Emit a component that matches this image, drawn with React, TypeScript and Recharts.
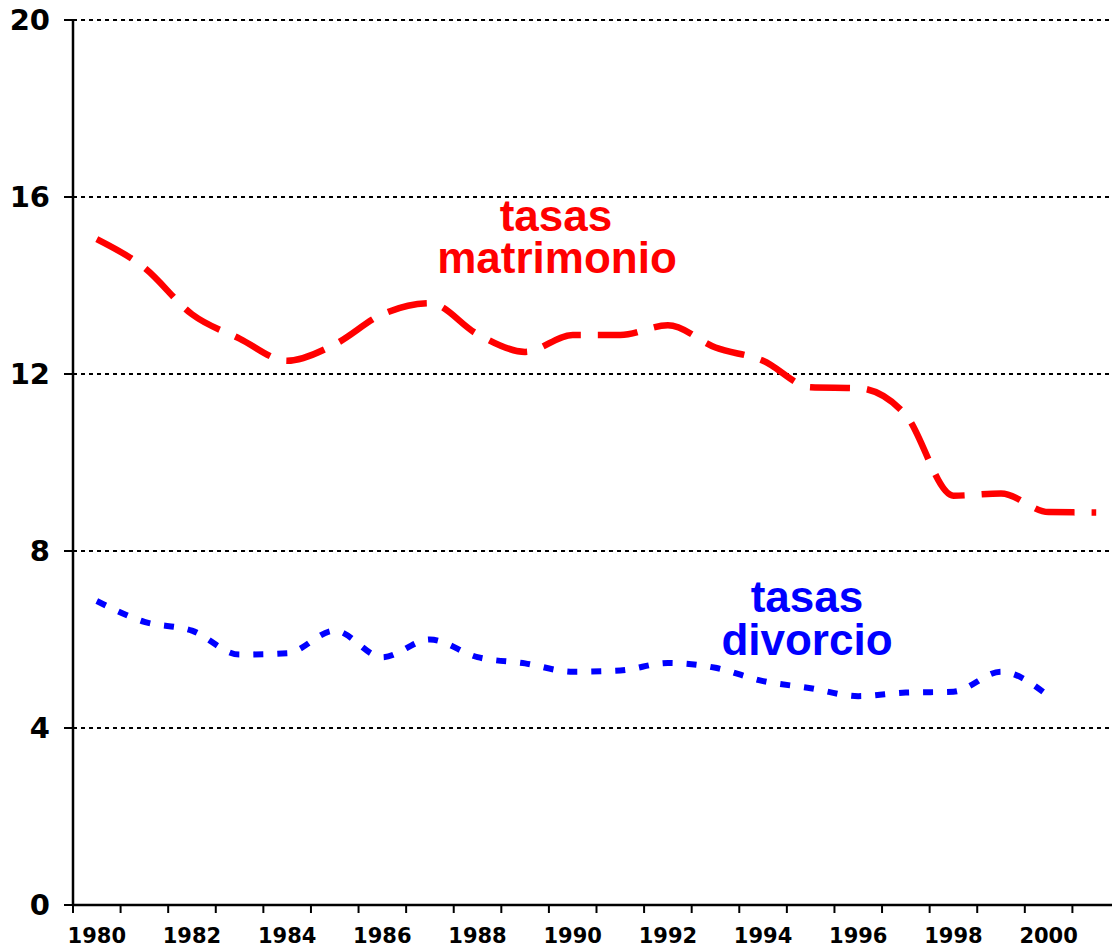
import React from 'react';
import { LineChart, Line, XAxis, YAxis, CartesianGrid } from 'recharts';

const years = [1980, 1981, 1982, 1983, 1984, 1985, 1986, 1987, 1988, 1989, 1990,
  1991, 1992, 1993, 1994, 1995, 1996, 1997, 1998, 1999, 2000, 2001];
const matrimonio = [15.05, 14.4, 13.35, 12.8, 12.3, 12.67, 13.35, 13.6, 12.9, 12.5, 12.88,
  12.88, 13.1, 12.6, 12.3, 11.7, 11.68, 11.07, 9.25, 9.3, 8.88, 8.87];
const divorcio = [6.87, 6.4, 6.2, 5.66, 5.69, 6.2, 5.6, 6.0, 5.6, 5.46, 5.27,
  5.3, 5.47, 5.36, 5.06, 4.9, 4.72, 4.8, 4.82, 5.27, 4.72, null];
const yTicks = [0, 4, 8, 12, 16, 20];
const labelYears = [1980, 1982, 1984, 1986, 1988, 1990, 1992, 1994, 1996, 1998, 2000];

const data = years.map((y, i) => ({ year: y, matrimonio: matrimonio[i], divorcio: divorcio[i] }));

// tick marks sit on the year boundaries, labels on every second year
const xTicks: number[] = [];
years.forEach(y => {
  xTicks.push(y - 0.5);
  if (labelYears.includes(y)) xTicks.push(y);
});
xTicks.push(2001.5);

const TICK = 8, GAP = 15;

function YearTick(props: any) {
  const { x, y, payload } = props;
  const v = payload.value;
  if (v % 1 !== 0) {
    return <line x1={x} x2={x} y1={y - TICK - GAP} y2={y - GAP} stroke="#000" strokeWidth={2} />;
  }
  return (
    <text x={x} y={y} dy="0.71em" textAnchor="middle" fontFamily="DejaVu Sans" fontWeight="bold" fontSize={21} fill="#000">
      {v}
    </text>
  );
}

const labelFont = { fontFamily: 'Liberation Sans', fontWeight: 'bold' as const, fontSize: 44 };

export default function App() {
  return (
    <div style={{ position: 'fixed', left: 0, top: 0, width: 1112, height: 949, overflow: 'hidden', background: '#fff' }}>
      <LineChart width={1130} height={949} data={data} margin={{ top: 20, right: 10, bottom: 0, left: 0 }}>
        <CartesianGrid vertical={false} stroke="#000" strokeWidth={2} strokeDasharray="4 4" />
        <XAxis
          dataKey="year"
          type="number"
          domain={[1979.5, 2001.5]}
          ticks={xTicks}
          interval={0}
          height={44}
          tickLine={false}
          tickSize={TICK}
          tickMargin={GAP}
          axisLine={{ stroke: '#000', strokeWidth: 2.5 }}
          tick={<YearTick />}
        />
        <YAxis
          domain={[0, 20]}
          ticks={yTicks}
          width={73}
          tickSize={9}
          tickMargin={14}
          tickLine={{ stroke: '#000', strokeWidth: 2 }}
          axisLine={{ stroke: '#000', strokeWidth: 2.5 }}
          tick={{ fill: '#000', fontFamily: 'DejaVu Sans', fontWeight: 'bold', fontSize: 29 }}
        />
        <Line type="monotone" dataKey="matrimonio" stroke="#ff0000" strokeWidth={6.5} strokeDasharray="40 17"
          dot={false} activeDot={false} isAnimationActive={false} />
        <Line type="monotone" dataKey="divorcio" stroke="#0000ff" strokeWidth={6} strokeDasharray="10 14"
          dot={false} activeDot={false} isAnimationActive={false} />
      </LineChart>
      <svg width={1112} height={949} style={{ position: 'absolute', left: 0, top: 0, pointerEvents: 'none' }}>
        <text textAnchor="middle" fill="#ff0000" {...labelFont}>
          <tspan x={556} y={231}>tasas</tspan>
          <tspan x={557} y={273}>matrimonio</tspan>
        </text>
        <text textAnchor="middle" fill="#0000ff" {...labelFont}>
          <tspan x={807} y={612}>tasas</tspan>
          <tspan x={807} y={655}>divorcio</tspan>
        </text>
      </svg>
    </div>
  );
}
